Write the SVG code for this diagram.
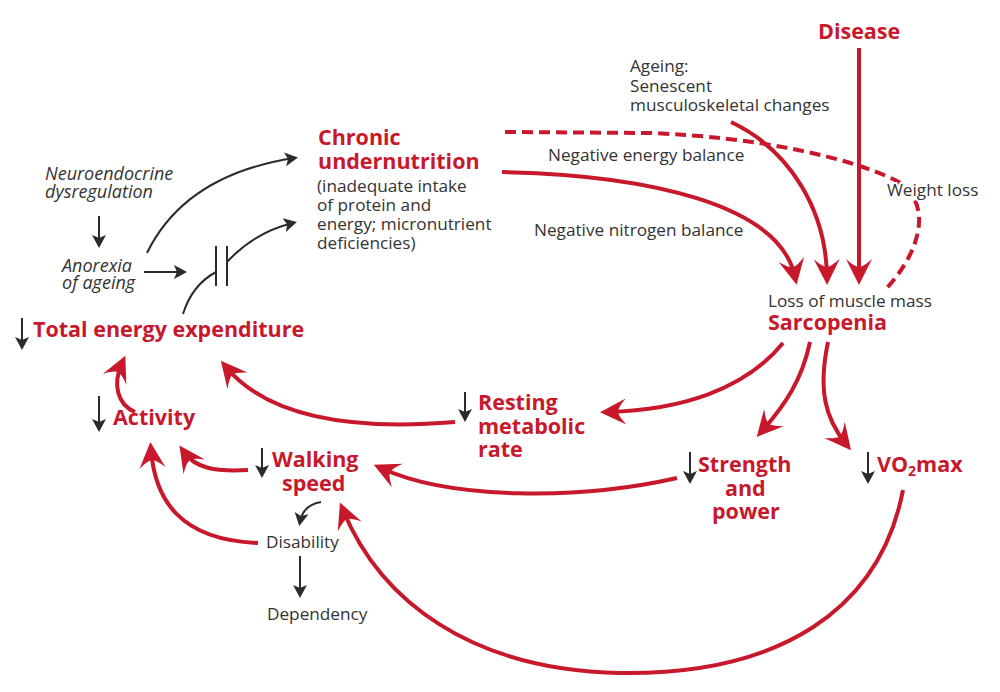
<svg xmlns="http://www.w3.org/2000/svg" width="1000" height="692" viewBox="0 0 1000 692">
<style>
text{font-family:"Open Sans","Liberation Sans",sans-serif;}
.r{fill:#c8182c;font-weight:bold;font-size:21.5px;}
.k{fill:#333;font-size:17.2px;}
.i{fill:#333;font-size:18px;font-style:italic;}
.rl{fill:none;stroke:#c8182c;stroke-width:4;}
.kl{fill:none;stroke:#2b2b2b;stroke-width:2;}
</style>
<defs>
<marker id="ra" markerUnits="userSpaceOnUse" orient="auto" refX="0" refY="0" overflow="visible" markerWidth="30" markerHeight="30">
<path d="M8,0 L-18,-13 Q-10,-4 -10,0 Q-10,4 -18,13 Z" fill="#c8182c"/>
</marker>
<marker id="ka" markerUnits="userSpaceOnUse" orient="auto" refX="0" refY="0" overflow="visible" markerWidth="20" markerHeight="20">
<path d="M4,0 L-9,-7 L-6,0 L-9,7 Z" fill="#2b2b2b"/>
</marker>
</defs>
<rect width="1000" height="692" fill="#fff"/>
<g id="connectors">
<path class="kl" d="M99,216 V244" marker-end="url(#ka)"/>
<path class="kl" d="M147,253 Q185,175 294,158" marker-end="url(#ka)"/>
<path class="kl" d="M144,272 H183" marker-end="url(#ka)"/>
<path class="kl" d="M183,314 Q192,285 216,272"/>
<path class="kl" d="M216,246 V286 M227,246 V286"/>
<path class="kl" d="M227,262 Q255,232 293,223" marker-end="url(#ka)"/>
<path class="kl" d="M321,502 Q303,505 300,522" marker-end="url(#ka)"/>
<path class="kl" d="M300,556 V594" marker-end="url(#ka)"/>
<path class="kl" d="M22,318 V346" marker-end="url(#ka)"/>
<path class="kl" d="M99,396 V428" marker-end="url(#ka)"/>
<path class="kl" d="M465,392 V418" marker-end="url(#ka)"/>
<path class="kl" d="M262,448 V474" marker-end="url(#ka)"/>
<path class="kl" d="M690,452 V480" marker-end="url(#ka)"/>
<path class="kl" d="M868,452 V480" marker-end="url(#ka)"/>
<path class="rl" d="M859,48 V277" marker-end="url(#ra)"/>
<path class="rl" d="M731,122 C790,150 826,210 827,277" marker-end="url(#ra)"/>
<path class="rl" d="M502,172 C650,175 780,205 795,277" marker-end="url(#ra)"/>
<path class="rl" d="M505,132 L650,133 C760,137 850,158 895,180 C930,198 927,245 885,290" stroke-dasharray="11,6"/>
<path class="rl" d="M783,343 C745,390 680,410 608,412" marker-end="url(#ra)"/>
<path class="rl" d="M810,342 C802,380 785,405 762,431" marker-end="url(#ra)"/>
<path class="rl" d="M828,342 C818,390 825,418 846,444" marker-end="url(#ra)"/>
<path class="rl" d="M455,422 C360,430 270,420 226,367" marker-end="url(#ra)"/>
<path class="rl" d="M135,412 C118,405 112,385 122,363" marker-end="url(#ra)"/>
<path class="rl" d="M248,470 C215,472 195,468 184,452" marker-end="url(#ra)"/>
<path class="rl" d="M258,543 C180,540 155,500 151,450" marker-end="url(#ra)"/>
<path class="rl" d="M677,478 C580,500 450,500 381,468" marker-end="url(#ra)"/>
<path class="rl" d="M903,490 C880,610 780,675 620,673 C470,670 380,600 343,510" marker-end="url(#ra)"/>
</g>
<g id="disease"><text class="r" x="818" y="39">Disease</text></g>
<g id="ageing"><text class="k"><tspan x="630" y="72">Ageing:</tspan><tspan x="630" y="92">Senescent</tspan><tspan x="630" y="111">musculoskeletal changes</tspan></text></g>
<g id="chronic-undernutrition">
<text class="r"><tspan x="318" y="145">Chronic</tspan><tspan x="318" y="169">undernutrition</tspan></text>
<text class="k"><tspan x="317" y="192">(inadequate intake</tspan><tspan x="317" y="211">of protein and</tspan><tspan x="317" y="230">energy; micronutrient</tspan><tspan x="317" y="249">deficiencies)</tspan></text>
</g>
<g id="neuroendocrine"><text class="i"><tspan x="45" y="180">Neuroendocrine</tspan><tspan x="45" y="198">dysregulation</tspan></text></g>
<g id="anorexia"><text class="i"><tspan x="62" y="272">Anorexia</tspan><tspan x="62" y="289">of ageing</tspan></text></g>
<g id="labels-balance">
<text class="k" x="548" y="161">Negative energy balance</text>
<text class="k" x="534" y="236">Negative nitrogen balance</text>
<text class="k" x="887" y="196" stroke="#fff" stroke-width="4" paint-order="stroke">Weight loss</text>
</g>
<g id="sarcopenia">
<text class="k" x="768" y="307">Loss of muscle mass</text>
<text class="r" x="768" y="330">Sarcopenia</text>
</g>
<g id="tee"><text class="r" x="33" y="337">Total energy expenditure</text></g>
<g id="activity"><text class="r" x="113" y="425">Activity</text></g>
<g id="rmr"><text class="r"><tspan x="478" y="410">Resting</tspan><tspan x="478" y="434">metabolic</tspan><tspan x="478" y="457">rate</tspan></text></g>
<g id="walking"><text class="r"><tspan x="272" y="467">Walking</tspan><tspan x="282" y="491">speed</tspan></text></g>
<g id="strength"><text class="r"><tspan x="698" y="472">Strength</tspan><tspan x="725" y="496">and</tspan><tspan x="712" y="519">power</tspan></text></g>
<g id="vo2max"><text class="r" x="877" y="472">VO<tspan font-size="14" dy="4">2</tspan><tspan dy="-4">max</tspan></text></g>
<g id="disability"><text class="k" x="266" y="548">Disability</text></g>
<g id="dependency"><text class="k" x="267" y="620">Dependency</text></g>
</svg>
